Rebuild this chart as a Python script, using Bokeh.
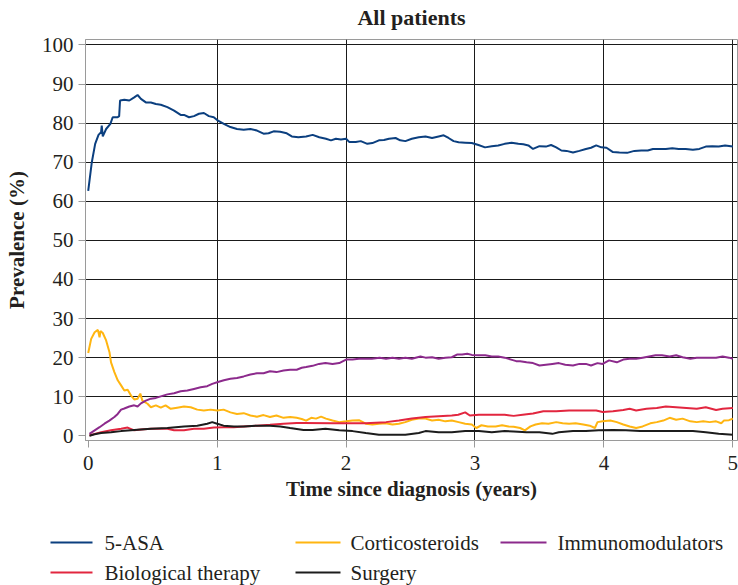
from bokeh.plotting import figure
from bokeh.models import Range1d, FixedTicker
from bokeh.layouts import column
from bokeh.embed import file_html
from bokeh.resources import INLINE
from bokeh.core.properties import value

TITLE = "All patients"
X_LABEL = "Time since diagnosis (years)"
Y_LABEL = "Prevalence (%)"
X_TICKS = [0, 1, 2, 3, 4, 5]
Y_TICKS = [0, 10, 20, 30, 40, 50, 60, 70, 80, 90, 100]

asa_t = [0.00, 0.028, 0.054, 0.08, 0.10, 0.105, 0.113, 0.139, 0.172, 0.19, 0.228, 0.24, 0.247, 0.28,
         0.319, 0.357, 0.383, 0.409, 0.447, 0.486, 0.525, 0.563, 0.614, 0.666, 0.717, 0.743, 0.782,
         0.82, 0.859, 0.897, 0.936, 0.974, 1.0, 1.052, 1.103, 1.154, 1.206, 1.258, 1.309, 1.36, 1.399,
         1.438, 1.489, 1.54, 1.579, 1.63, 1.69, 1.741, 1.792, 1.844, 1.883, 1.921, 1.96, 2.0, 2.024,
         2.075, 2.114, 2.165, 2.204, 2.255, 2.294, 2.333, 2.384, 2.42, 2.46, 2.51, 2.564, 2.616, 2.667,
         2.718, 2.757, 2.795, 2.834, 2.873, 2.924, 2.975, 3.027, 3.078, 3.13, 3.18, 3.23, 3.284, 3.336,
         3.375, 3.414, 3.45, 3.5, 3.55, 3.59, 3.63, 3.67, 3.71, 3.76, 3.81, 3.86, 3.90, 3.94, 3.98,
         4.02, 4.07, 4.12, 4.18, 4.236, 4.29, 4.34, 4.38, 4.43, 4.48, 4.53, 4.58, 4.634, 4.69, 4.74,
         4.79, 4.84, 4.89, 4.94, 5.0]
asa_v = [62.7, 70.0, 74.7, 77.0, 77.7, 79.4, 76.6, 78.5, 79.8, 81.5, 81.5, 81.8, 85.8, 86.0,
         85.8, 86.6, 87.2, 86.2, 85.3, 85.3, 84.9, 84.7, 84.1, 83.2, 82.1, 82.1, 81.5,
         81.8, 82.4, 82.6, 81.8, 81.5, 80.8, 79.8, 79.0, 78.5, 78.3, 78.5, 78.1, 77.3, 77.4,
         77.9, 77.8, 77.4, 76.6, 76.4, 76.6, 77.0, 76.4, 76.0, 75.6, 76.0, 75.8, 76.0, 75.2,
         75.2, 75.4, 74.7, 74.9, 75.6, 75.7, 76.0, 76.2, 75.6, 75.4, 76.0, 76.4, 76.6, 76.2,
         76.6, 76.9, 76.2, 75.4, 75.1, 75.0, 74.9, 74.4, 73.8, 74.1, 74.3, 74.7, 75.0, 74.7,
         74.6, 74.3, 73.4, 74.1, 74.0, 74.4, 73.8, 73.0, 72.9, 72.5, 72.9, 73.4, 73.7, 74.3, 73.8,
         73.7, 72.6, 72.5, 72.4, 72.9, 73.0, 73.0, 73.4, 73.4, 73.4, 73.6, 73.4, 73.4, 73.2, 73.4,
         74.0, 74.1, 74.0, 74.3, 74.0]

cort_t = [0.0, 0.023, 0.05, 0.075, 0.088, 0.095, 0.113, 0.139, 0.165, 0.177, 0.203, 0.229, 0.255,
          0.28, 0.306, 0.332, 0.357, 0.383, 0.404, 0.42, 0.46, 0.486, 0.525, 0.563, 0.60, 0.64, 0.69,
          0.743, 0.795, 0.846, 0.897, 0.949, 1.0, 1.05, 1.103, 1.154, 1.206, 1.258, 1.309, 1.36, 1.41,
          1.46, 1.515, 1.566, 1.617, 1.656, 1.69, 1.73, 1.767, 1.806, 1.844, 1.895, 1.947, 2.0, 2.05,
          2.10, 2.153, 2.204, 2.255, 2.307, 2.36, 2.41, 2.46, 2.51, 2.564, 2.616, 2.667, 2.718, 2.77,
          2.82, 2.873, 2.924, 2.975, 3.01, 3.05, 3.10, 3.16, 3.21, 3.26, 3.30, 3.35, 3.387, 3.43, 3.47,
          3.52, 3.57, 3.63, 3.68, 3.73, 3.78, 3.84, 3.89, 3.93, 3.95, 3.99, 4.05, 4.10, 4.15, 4.20,
          4.25, 4.30, 4.36, 4.41, 4.46, 4.51, 4.56, 4.61, 4.67, 4.72, 4.77, 4.82, 4.87, 4.91, 4.93,
          4.97, 5.0]
cort_v = [21.2, 24.8, 26.5, 27.1, 25.2, 26.8, 26.3, 24.4, 21.4, 18.8, 16.3, 14.2, 12.9,
          11.6, 11.8, 10.3, 9.3, 9.5, 10.8, 9.0, 8.2, 7.3, 7.8, 7.2, 7.8, 6.9, 7.2,
          7.5, 7.3, 6.7, 6.5, 6.7, 6.5, 6.7, 6.0, 5.6, 5.8, 5.2, 4.9, 5.3, 4.8,
          5.2, 4.6, 4.8, 4.6, 4.3, 3.9, 4.6, 4.4, 4.9, 4.4, 3.9, 3.5, 3.7, 3.9,
          4.0, 3.1, 2.9, 3.1, 3.2, 2.9, 3.1, 3.5, 4.1, 4.4, 4.4, 3.9, 4.1, 3.7,
          3.9, 3.5, 3.1, 2.9, 2.0, 2.7, 2.4, 2.4, 2.7, 2.4, 2.3, 2.0, 1.4, 2.4, 2.9,
          3.2, 3.1, 3.5, 3.2, 3.1, 3.2, 2.9, 2.6, 2.0, 3.5, 3.7, 3.9, 3.5, 2.9, 2.4,
          2.0, 2.4, 3.2, 3.5, 3.9, 4.6, 4.1, 4.4, 3.7, 3.5, 3.7, 3.5, 3.7, 3.2, 3.9,
          4.0, 4.4]

imm_t = [0.01, 0.05, 0.088, 0.126, 0.164, 0.203, 0.229, 0.255, 0.28, 0.319, 0.357, 0.383, 0.409,
         0.447, 0.486, 0.525, 0.563, 0.614, 0.666, 0.717, 0.769, 0.82, 0.872, 0.923, 0.962, 1.0,
         1.052, 1.103, 1.154, 1.206, 1.258, 1.309, 1.36, 1.41, 1.46, 1.515, 1.566, 1.617, 1.656,
         1.69, 1.74, 1.79, 1.84, 1.895, 1.947, 2.0, 2.05, 2.10, 2.15, 2.2, 2.26, 2.31, 2.36, 2.41,
         2.46, 2.51, 2.577, 2.616, 2.667, 2.718, 2.77, 2.82, 2.86, 2.9, 2.94, 2.975, 3.03, 3.08,
         3.13, 3.18, 3.23, 3.28, 3.32, 3.35, 3.40, 3.45, 3.50, 3.55, 3.60, 3.65, 3.70, 3.76, 3.81,
         3.86, 3.90, 3.95, 3.99, 4.04, 4.10, 4.15, 4.20, 4.25, 4.30, 4.35, 4.40, 4.45, 4.51, 4.56,
         4.61, 4.67, 4.72, 4.77, 4.82, 4.87, 4.92, 4.97, 5.0]
imm_v = [0.5, 1.4, 2.2, 3.1, 3.9, 4.8, 5.6, 6.7, 7.0, 7.5, 7.8, 7.5, 8.3,
         9.0, 9.5, 9.7, 10.1, 10.6, 10.9, 11.4, 11.6, 12.0, 12.4, 12.7, 13.3, 13.7,
         14.2, 14.6, 14.8, 15.2, 15.7, 16.0, 16.0, 16.5, 16.3, 16.7, 16.9, 16.9, 17.4,
         17.6, 17.9, 18.4, 18.6, 18.4, 18.6, 19.5, 19.5, 19.7, 19.7, 19.7, 20.0, 19.7, 20.0, 19.7,
         20.0, 19.7, 20.3, 20.0, 20.1, 19.7, 20.0, 20.1, 20.8, 20.8, 21.0, 20.7, 20.6, 20.6,
         20.3, 20.3, 20.0, 19.5, 19.1, 19.1, 18.8, 18.6, 18.0, 18.2, 18.4, 18.6, 18.2, 18.0, 18.4,
         18.4, 18.0, 18.6, 18.4, 19.3, 18.8, 19.5, 19.7, 19.7, 20.0, 20.3, 20.6, 20.6, 20.3, 20.6,
         20.1, 19.7, 20.0, 20.0, 20.0, 20.0, 20.3, 20.0, 19.7]

bio_t = [0.01, 0.05, 0.10, 0.177, 0.255, 0.306, 0.357, 0.41, 0.486, 0.563, 0.614, 0.666, 0.743,
         0.82, 0.897, 0.974, 1.05, 1.13, 1.206, 1.31, 1.41, 1.515, 1.617, 1.67, 1.895, 2.15, 2.31,
         2.41, 2.51, 2.616, 2.718, 2.82, 2.87, 2.924, 2.96, 3.03, 3.13, 3.23, 3.30, 3.37, 3.45,
         3.53, 3.63, 3.73, 3.84, 3.94, 3.99, 4.07, 4.15, 4.20, 4.25, 4.33, 4.41, 4.48, 4.56, 4.64,
         4.72, 4.79, 4.87, 4.92, 5.0]
bio_v = [0.1, 0.5, 0.9, 1.4, 1.8, 2.1, 1.4, 1.6, 1.8, 1.8, 1.8, 1.4, 1.4,
         1.8, 1.8, 2.1, 2.2, 2.2, 2.4, 2.6, 2.8, 3.1, 3.3, 3.3, 3.2, 3.2, 3.5,
         3.9, 4.4, 4.8, 5.0, 5.2, 5.4, 6.0, 5.2, 5.4, 5.4, 5.4, 5.1, 5.4, 5.7,
         6.3, 6.3, 6.5, 6.5, 6.5, 6.1, 6.3, 6.6, 6.9, 6.5, 6.9, 7.1, 7.5, 7.3, 7.1,
         6.9, 7.3, 6.6, 6.9, 7.1]

surg_t = [0.01, 0.05, 0.10, 0.177, 0.255, 0.357, 0.486, 0.614, 0.743, 0.846, 0.923, 0.962, 1.0,
          1.05, 1.13, 1.206, 1.31, 1.41, 1.49, 1.566, 1.67, 1.74, 1.84, 1.947, 2.05, 2.153, 2.255,
          2.36, 2.46, 2.564, 2.616, 2.718, 2.82, 2.924, 3.03, 3.13, 3.23, 3.30, 3.40, 3.50, 3.60,
          3.65, 3.76, 3.86, 3.96, 4.07, 4.17, 4.28, 4.38, 4.48, 4.58, 4.69, 4.79, 4.89, 5.0]
surg_v = [0.0, 0.4, 0.7, 0.9, 1.2, 1.5, 1.8, 2.0, 2.4, 2.6, 3.1, 3.5, 3.1,
          2.6, 2.4, 2.4, 2.6, 2.6, 2.4, 2.0, 1.5, 1.5, 1.8, 1.4, 1.2, 0.7, 0.3,
          0.3, 0.3, 0.7, 1.2, 0.9, 0.9, 1.2, 1.2, 0.9, 1.2, 1.1, 0.9, 0.9, 0.5,
          0.9, 1.2, 1.2, 1.4, 1.5, 1.4, 1.2, 1.2, 1.2, 1.2, 1.2, 0.9, 0.5, 0.3]

SERIES = ["5-ASA", "Corticosteroids", "Immunomodulators", "Biological therapy", "Surgery"]
COLORS = ["#0b3f7f", "#ffb511", "#8c2a8c", "#e2263f", "#1c1c1c"]
DATA = [(asa_t, asa_v), (cort_t, cort_v), (imm_t, imm_v), (bio_t, bio_v), (surg_t, surg_v)]

SERIF = "Liberation Serif"
INK = "#231f20"
W = 738


def blank_panel(h):
    f = figure(width=W, height=h, x_range=Range1d(0, W), y_range=Range1d(h, 0),
               toolbar_location=None, output_backend="svg", min_border=0,
               x_axis_location=None, y_axis_location=None)
    f.frame_align = False
    f.grid.visible = False
    f.outline_line_color = None
    return f


# title panel (pixel coordinates)
TITLE_H = 30
tp = blank_panel(TITLE_H)
tp.text(x=[411], y=[17], text=[TITLE], text_font=value(SERIF), text_font_size="22px",
        text_font_style="bold", text_baseline="middle", text_align="center", text_color=INK)

# main chart
p = figure(width=W, height=485, x_range=Range1d(-0.021, 5.036), y_range=Range1d(-1.2, 101.4),
           toolbar_location=None, output_backend="svg",
           min_border_left=85, min_border_right=1, min_border_top=9, min_border_bottom=75)
p.frame_align = False

for (t, v), c in zip(DATA, COLORS):
    p.line(t, v, line_color=c, line_width=2)

p.xaxis.ticker = FixedTicker(ticks=X_TICKS)
p.yaxis.ticker = FixedTicker(ticks=Y_TICKS)
p.xgrid.ticker = FixedTicker(ticks=X_TICKS[1:])
p.ygrid.ticker = FixedTicker(ticks=Y_TICKS[1:])
p.grid.grid_line_color = "#1a1a1a"
p.grid.grid_line_width = 1
p.outline_line_color = "#9a9a9a"
p.outline_line_width = 1

for ax in (p.xaxis, p.yaxis):
    ax.axis_line_color = "#9a9a9a"
    ax.major_tick_line_color = "#9a9a9a"
    ax.major_tick_out = 7
    ax.major_tick_in = 0
    ax.minor_tick_line_color = None
    ax.major_label_text_font = SERIF
    ax.major_label_text_font_size = "21px"
    ax.major_label_text_color = INK
    ax.axis_label_text_font = SERIF
    ax.axis_label_text_font_size = "21px"
    ax.axis_label_text_font_style = "bold"
    ax.axis_label_text_color = INK

p.xaxis.axis_label = X_LABEL
p.yaxis.axis_label = Y_LABEL
p.xaxis.major_label_standoff = 8
p.xaxis.axis_label_standoff = 4
p.yaxis.major_label_standoff = 5
p.yaxis.axis_label_standoff = 10

# legend panel (pixel coordinates)
LEG_H = 70
leg = blank_panel(LEG_H)
LEG_LINE_X = [50, 295, 500]
LEG_TEXT_X = [104, 350, 557]
LEG_LINE_LEN = [42, 45, 46]
LEG_ROW_Y = [27, 57]
order = [(0, 0, 0), (1, 0, 1), (2, 0, 2), (3, 1, 0), (4, 1, 1)]
for idx, row, col in order:
    x0 = LEG_LINE_X[col]
    y0 = LEG_ROW_Y[row]
    leg.segment(x0=[x0], y0=[y0], x1=[x0 + LEG_LINE_LEN[col]], y1=[y0],
                line_color=COLORS[idx], line_width=2)
    leg.text(x=[LEG_TEXT_X[col]], y=[y0], text=[SERIES[idx]], text_font=value(SERIF),
             text_font_size="21px", text_baseline="middle", text_align="left", text_color=INK)

layout = column(tp, p, leg, spacing=0)
open("out.html", "w").write(file_html(layout, INLINE))
